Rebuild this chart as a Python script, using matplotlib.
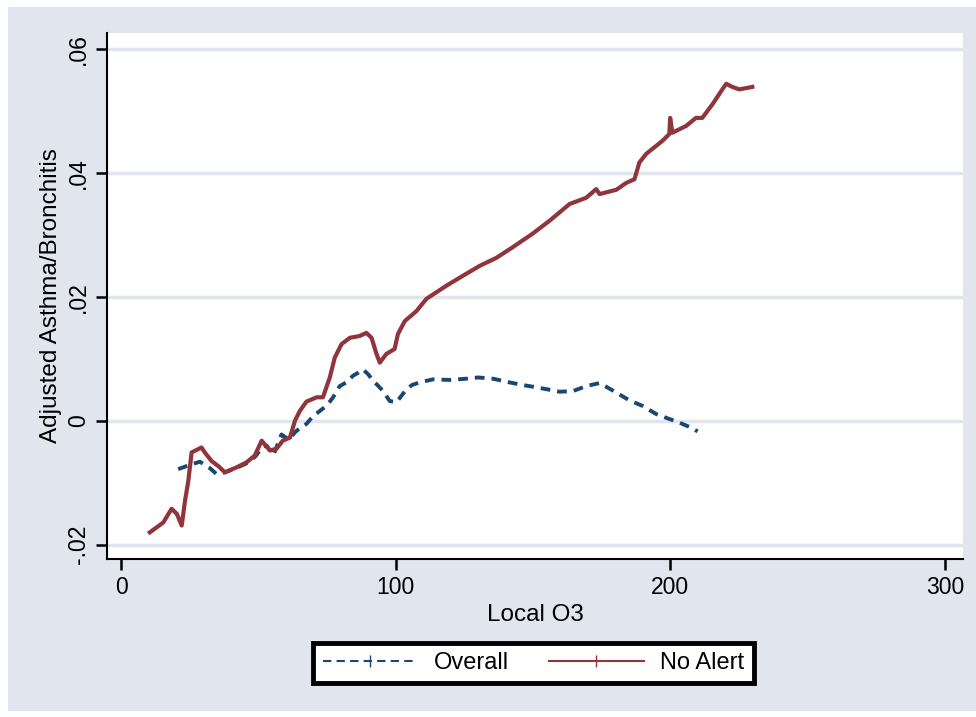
import numpy as np
import matplotlib.pyplot as plt
from matplotlib.lines import Line2D
from matplotlib.patches import Rectangle

plt.rcParams['font.family'] = ['Liberation Sans', 'DejaVu Sans']

# Overall (navy dashed)
overall_x = [20.8, 24.5, 28.7, 32.0, 34.8, 38.0, 42.0, 46.0, 49.0, 51.5, 53.0, 55.5,
             58.4, 61.0, 63.9, 67.5, 70.0, 72.4, 75.0, 77.2, 79.6, 82.0, 84.5, 86.5,
             88.1, 90.0, 91.7, 93.5, 95.4, 97.8, 100.3, 102.0, 103.9, 106.0, 108.7,
             113.6, 119.6, 125.7, 130.0, 135.4, 141.5, 146.0, 150.0, 155.0, 159.6,
             164.5, 169.3, 174.2, 179.0, 185.1, 189.9, 194.8, 199.0, 203.3, 207.0, 209.9]
overall_y = [-0.0078, -0.0072, -0.0066, -0.0075, -0.0086, -0.0083, -0.0076, -0.0068,
             -0.0057, -0.0042, -0.0040, -0.0055, -0.0022, -0.0030, -0.0016, -0.0005,
             0.0008, 0.0016, 0.0025, 0.0038, 0.0056, 0.0062, 0.0073, 0.0078, 0.0083,
             0.0075, 0.0065, 0.0057, 0.0048, 0.0032, 0.0030, 0.0040, 0.0051, 0.0058,
             0.0062, 0.0067, 0.0066, 0.0068, 0.0070, 0.0068, 0.0062, 0.0058, 0.0055,
             0.0051, 0.0047, 0.0048, 0.0056, 0.0061, 0.0049, 0.0033, 0.0024, 0.0011,
             0.0004, -0.0003, -0.0010, -0.0017]

# No Alert (maroon solid)
noalert_x = [10.5, 15.4, 18.4, 20.3, 22.1, 23.3, 24.5, 25.7, 29.3, 30.5, 33.0, 35.4,
             37.8, 42.1, 45.7, 48.7, 51.2, 54.2, 56.6, 58.9, 61.5, 63.3, 65.1, 67.5,
             71.2, 73.5, 76.0, 77.8, 80.3, 83.3, 86.9, 89.3, 91.2, 93.0, 94.2, 96.6,
             99.6, 100.8, 103.3, 107.5, 111.2, 118.4, 124.4, 130.5, 136.6, 142.5,
             149.8, 156.0, 163.3, 169.3, 173.0, 174.2, 180.3, 183.9, 186.9, 188.7,
             191.2, 197.1, 199.6, 199.9, 200.7, 205.7, 209.3, 211.6, 215.3, 218.9,
             220.3, 222.5, 225.1, 229.8]
noalert_y = [-0.0180, -0.0164, -0.0142, -0.0150, -0.0169, -0.0129, -0.0097, -0.0051,
             -0.0043, -0.0051, -0.0065, -0.0073, -0.0083, -0.0075, -0.0067, -0.0056,
             -0.0032, -0.0048, -0.0045, -0.0032, -0.0027, 0.0000, 0.0016, 0.0031,
             0.0038, 0.0038, 0.0070, 0.0102, 0.0124, 0.0134, 0.0137, 0.0142, 0.0134,
             0.0108, 0.0094, 0.0108, 0.0116, 0.0140, 0.0161, 0.0177, 0.0197, 0.0218,
             0.0234, 0.0250, 0.0263, 0.0280, 0.0302, 0.0323, 0.0350, 0.0360, 0.0374,
             0.0366, 0.0373, 0.0384, 0.0390, 0.0417, 0.0431, 0.0452, 0.0463, 0.0489,
             0.0465, 0.0476, 0.0489, 0.0489, 0.0511, 0.0535, 0.0544, 0.0539, 0.0535,
             0.0539]

x_ticks = [0, 100, 200, 300]
y_ticks = [-0.02, 0, 0.02, 0.04, 0.06]
y_tick_labels = ['-.02', '0', '.02', '.04', '.06']

navy = '#1a476f'
maroon = '#90353b'
bg = '#e0e5ee'

fig = plt.figure(figsize=(9.76, 7.17), dpi=100, facecolor='white')
# stata-ish graph region
fig.patches.append(Rectangle((8 / 976, 1 - 711 / 717), 968 / 976, 704 / 717,
                             transform=fig.transFigure, facecolor=bg,
                             edgecolor='none', zorder=-10))

ax = fig.add_axes([107 / 976, 1 - 559 / 717, 856 / 976, 526 / 717])
ax.set_facecolor('white')

for yt in y_ticks:
    ax.axhline(yt, color=bg, lw=2.5, zorder=0)

ax.plot(overall_x, overall_y, color=navy, lw=2.8, linestyle=(0, (2.5, 1.8)), zorder=3)
ax.plot(noalert_x, noalert_y, color=maroon, lw=3.0, zorder=4)

ax.set_xlim(-5.1, 306.5)
ax.set_ylim(-0.0223, 0.0626)
ax.set_xticks(x_ticks)
ax.set_yticks(y_ticks)
ax.set_yticklabels(y_tick_labels, rotation=90, va='center')

for s in ['top', 'right']:
    ax.spines[s].set_visible(False)
for s in ['left', 'bottom']:
    ax.spines[s].set_linewidth(1.5)
ax.tick_params(length=8, width=1.8, labelsize=16.5, pad=4)

ax.set_xlabel('Local O3', fontsize=17.5, labelpad=4)
ax.set_ylabel('Adjusted Asthma/Bronchitis', fontsize=17.5, labelpad=4)

handles = [Line2D([], [], color=navy, lw=1.5, linestyle=(0, (4, 2.5)), marker='|', markersize=8),
           Line2D([], [], color=maroon, lw=1.5, marker='|', markersize=8)]
leg = fig.legend(handles, ['Overall', 'No Alert'], loc='center',
                 bbox_to_anchor=(533.5 / 976, 1 - 663 / 717), ncol=2,
                 fontsize=17, frameon=True, fancybox=False, framealpha=1,
                 handlelength=4.0, handletextpad=0.7, columnspacing=1.7, borderpad=0.4)
leg.get_frame().set_edgecolor('black')
leg.get_frame().set_linewidth(3.5)
leg.get_frame().set_facecolor('white')

plt.savefig('out.png', dpi=100, facecolor=fig.get_facecolor())
